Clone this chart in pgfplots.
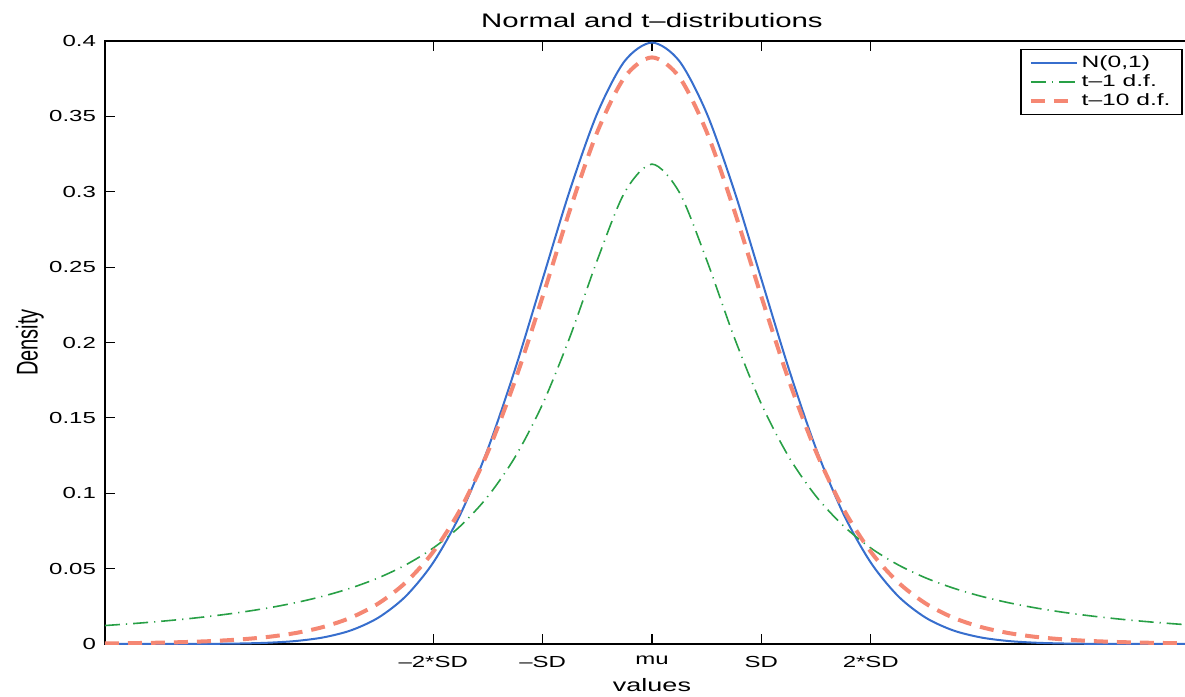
\documentclass[border=0pt]{standalone}
\usepackage{fontspec}
\setmainfont[FakeStretch=1.5]{Liberation Sans}
\newfontfamily\plainsans{Liberation Sans}
\usepackage{pgfplots}
\usepackage{pgfplotstable}
\pgfplotsset{compat=1.18}
\definecolor{nblue}{RGB}{55,110,205}
\definecolor{tgreen}{RGB}{40,160,70}
\definecolor{tsalmon}{RGB}{245,135,115}
\pgfplotstableread{
x n t1 t10
-5 0.0000015 0.012243 0.000396
-4.75 0.000005 0.013509 0.000589
-4.5 0.000016 0.014979 0.000883
-4.25 0.0000477 0.016698 0.001335
-4 0.000134 0.018724 0.002032
-3.75 0.000353 0.021132 0.003110
-3.5 0.000873 0.024023 0.004784
-3.25 0.002029 0.027530 0.007383
-3 0.004432 0.031831 0.011402
-2.75 0.009094 0.037175 0.017572
-2.5 0.017528 0.043905 0.026938
-2.25 0.031740 0.052505 0.040902
-2 0.053991 0.063662 0.061146
-1.75 0.086277 0.078353 0.089528
-1.5 0.129518 0.097942 0.127445
-1.25 0.182649 0.124218 0.175099
-1 0.241971 0.159155 0.230368
-0.75 0.301137 0.203718 0.287970
-0.5 0.352065 0.254648 0.339694
-0.25 0.386668 0.299586 0.376000
0 0.398942 0.318310 0.389108
0.25 0.386668 0.299586 0.376000
0.5 0.352065 0.254648 0.339694
0.75 0.301137 0.203718 0.287970
1 0.241971 0.159155 0.230368
1.25 0.182649 0.124218 0.175099
1.5 0.129518 0.097942 0.127445
1.75 0.086277 0.078353 0.089528
2 0.053991 0.063662 0.061146
2.25 0.031740 0.052505 0.040902
2.5 0.017528 0.043905 0.026938
2.75 0.009094 0.037175 0.017572
3 0.004432 0.031831 0.011402
3.25 0.002029 0.027530 0.007383
3.5 0.000873 0.024023 0.004784
3.75 0.000353 0.021132 0.003110
4 0.000134 0.018724 0.002032
4.25 0.0000477 0.016698 0.001335
4.5 0.000016 0.014979 0.000883
4.75 0.000005 0.013509 0.000589
5 0.0000015 0.012243 0.000396
}\dist
\begin{document}
\begin{tikzpicture}
\begin{scope}
\clip (-52.5pt,-26.5pt) rectangle (540pt,322pt);
\begin{axis}[
  scale only axis, width=547pt, height=301.5pt,
  at={(0pt,0pt)}, anchor=south west,
  xmin=-5, xmax=5, ymin=0, ymax=0.4,
  xtick={-2,-1,0,1,2},
  xticklabels={--2*SD,--SD,mu,SD,2*SD},
  ytick={0,0.05,0.1,0.15,0.2,0.25,0.3,0.35,0.4},
  yticklabel style={/pgf/number format/fixed,/pgf/number format/precision=2,/pgf/number format/assume math mode=true, xshift=-1pt},
  xticklabel style={yshift=-2.5pt},
  tick label style={font=\fontsize{8}{9.6}\selectfont},
  tick align=inside, major tick length=5pt,
  tick style={black, line width=0.6pt},
  axis line style={line width=1.2pt, black},
  title={Normal and t--distributions},
  title style={at={(axis description cs:0.5,1.0135)}, anchor=center, font=\fontsize{9.8}{11.5}\selectfont},
  xlabel={values},
  xlabel style={at={(axis description cs:0.5,-0.068)}, anchor=center, font=\fontsize{9}{11}\selectfont},
  ylabel={\scalebox{1}[1.5]{\plainsans Density}},
  ylabel style={at={(axis description cs:-0.0686,0.5)}, anchor=center, font=\fontsize{10}{12}\selectfont},
  legend style={at={(rel axis cs:0.985,0.987)}, anchor=north east, draw=black, line width=0.8pt,
    font=\fontsize{8.2}{8.6}\selectfont, inner xsep=4pt, inner ysep=1.5pt, row sep=-1.2pt,
    nodes={inner sep=1.6pt}},
  legend cell align=left,
  legend image code/.code={\draw[#1] plot coordinates {(0cm,0cm) (0.4cm,0cm) (0.8cm,0cm)};},
]
\addplot[nblue, line width=1pt, smooth] table[x=x,y=n] {\dist};
\addlegendentry{N(0,1)}
\addplot[tgreen, line width=0.8pt, smooth, dash pattern=on 7.5pt off 3pt on 0.6pt off 3pt] table[x=x,y=t1] {\dist};
\addlegendentry{t--1 d.f.}
\addplot[tsalmon, line width=2pt, smooth, dash pattern=on 7pt off 4.5pt] table[x=x,y=t10] {\dist};
\addlegendentry{t--10 d.f.}
\end{axis}
\end{scope}
\pgfresetboundingbox
\path[use as bounding box] (-52.5pt,-26.5pt) rectangle (540pt,322pt);
\end{tikzpicture}
\end{document}
